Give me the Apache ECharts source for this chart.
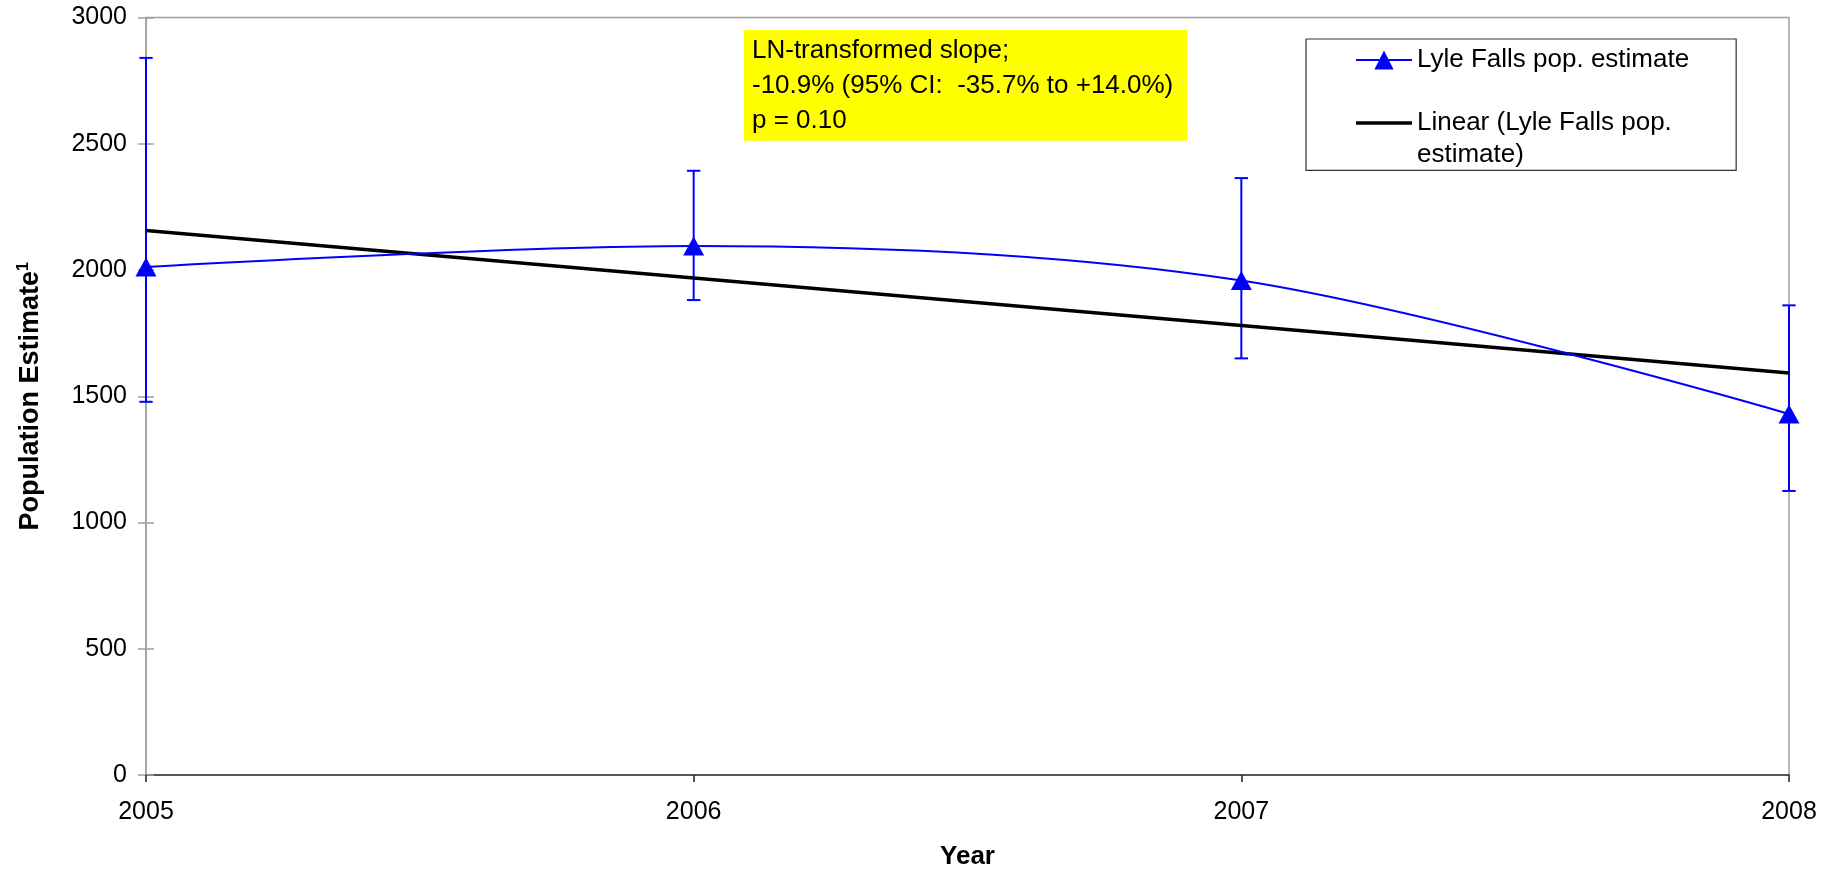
<!DOCTYPE html>
<html>
<head>
<meta charset="utf-8">
<script src="https://cdn.jsdelivr.net/npm/echarts@6/dist/echarts.min.js"></script>
<style>
html,body{margin:0;padding:0;background:#fff;}
#c{width:1841px;height:871px;}
</style>
</head>
<body>
<div id="c"></div>
<script>
// ---- data ----
const years = [2005, 2006, 2007, 2008];
const estimates = [2012, 2095, 1958, 1430];
const ciLower = [1478, 1881, 1650, 1125];
const ciUpper = [2840, 2393, 2364, 1860];
const trendYears = [2005, 2008];
const trendValues = [2156, 1592];
const seriesNames = ['Lyle Falls pop. estimate', 'Linear (Lyle Falls pop. estimate)'];
const legendLabels = ['Lyle Falls pop. estimate', ' \nLinear (Lyle Falls pop.\nestimate)'];
const annotationLines = ['LN-transformed slope;', '-10.9% (95% CI:  -35.7% to +14.0%)', 'p = 0.10'];
const xTitle = 'Year';
const yTitle = 'Population Estimate';
const yTitleSup = '1';

const FONT = "'Liberation Sans', Arial, Helvetica, sans-serif";
const BLUE = '#0000ff';

const chart = echarts.init(document.getElementById('c'), null, {renderer: 'canvas'});

const option = {
  animation: false,
  backgroundColor: '#ffffff',
  textStyle: {fontFamily: FONT},
  grid: {
    left: 146, right: 52, top: 17.5, bottom: 96,
    outerBoundsMode: 'none',
    containLabel: false,
    show: true, borderColor: '#a0a0a0', borderWidth: 1.5, backgroundColor: 'transparent'
  },
  legend: {
    orient: 'vertical',
    left: 1306, top: 39,
    padding: [8, 47, 0, 49],
    itemWidth: 56, itemHeight: 24, itemGap: 2.6,
    borderColor: '#333333', borderWidth: 1.2,
    backgroundColor: '#ffffff',
    textStyle: {fontSize: 26, color: '#000', fontFamily: FONT},
    formatter: function (name) {
      const i = seriesNames.indexOf(name);
      return i >= 0 ? legendLabels[i] : name;
    },
    data: [
      {name: seriesNames[0], textStyle: {lineHeight: 24}},
      {name: seriesNames[1], icon: 'path://M0,0L56,0L56,3.5L0,3.5Z', textStyle: {lineHeight: 31.6}}
    ],
    selectedMode: false
  },
  xAxis: {
    type: 'value', min: 2005, max: 2008, interval: 1,
    name: xTitle, nameLocation: 'middle', nameGap: 67,
    nameTextStyle: {fontSize: 26, fontWeight: 'bold', color: '#000', fontFamily: FONT, lineHeight: 30},
    axisLine: {show: true, lineStyle: {color: '#555555', width: 2}},
    axisTick: {show: true, length: 7, lineStyle: {color: '#222222', width: 1.5}},
    axisLabel: {fontSize: 25, color: '#000', margin: 24.5, lineHeight: 25, fontFamily: FONT,
      formatter: function (v) { return String(v); }},
    splitLine: {show: false}
  },
  yAxis: [
    {
      type: 'value', min: 0, max: 3000, interval: 500,
      name: '{t|' + yTitle + '}{s|' + yTitleSup + '}',
      nameLocation: 'middle', nameGap: 100, nameRotate: 90,
      nameTextStyle: {
        fontFamily: FONT, color: '#000',
        rich: {
          t: {fontSize: 27, fontWeight: 'bold', lineHeight: 30, fontFamily: FONT, color: '#000'},
          s: {fontSize: 16, fontWeight: 'bold', lineHeight: 16, verticalAlign: 'top', fontFamily: FONT, color: '#000'}
        }
      },
      axisLine: {show: true, lineStyle: {color: '#a0a0a0', width: 1.5}},
      axisTick: {show: true, length: 8, lineStyle: {color: '#a0a0a0', width: 1.5}},
      axisLabel: {fontSize: 25, color: '#000', margin: 19, fontFamily: FONT,
        formatter: function (v) { return String(v); }},
      splitLine: {show: false}
    },
    {
      type: 'value', min: 0, max: 3000, interval: 500, position: 'left',
      axisLine: {show: false},
      axisTick: {show: true, inside: true, length: 8, lineStyle: {color: '#a0a0a0', width: 1.5}},
      axisLabel: {show: false},
      splitLine: {show: false}
    }
  ],
  graphic: [
    {
      type: 'text',
      x: 744, y: 30,
      z: 100,
      style: {
        text: annotationLines.join('\n'),
        fontSize: 26,
        fontFamily: FONT,
        fill: '#000',
        lineHeight: 35,
        backgroundColor: '#ffff00',
        padding: [3, 8, 2.7, 8],
        width: 427,
        align: 'left',
        verticalAlign: 'top'
      }
    }
  ],
  series: [
    {
      type: 'custom',
      name: 'CI',
      xAxisIndex: 0, yAxisIndex: 0,
      z: 2,
      clip: false,
      data: years.map((y, i) => [y, ciLower[i], ciUpper[i]]),
      encode: {x: 0, y: [1, 2]},
      renderItem: function (params, api) {
        const x = api.value(0);
        const pLo = api.coord([x, api.value(1)]);
        const pHi = api.coord([x, api.value(2)]);
        const w = 6.7;
        const st = {stroke: BLUE, lineWidth: 2};
        return {
          type: 'group',
          children: [
            {type: 'line', shape: {x1: pLo[0], y1: pLo[1], x2: pHi[0], y2: pHi[1]}, style: st},
            {type: 'line', shape: {x1: pLo[0] - w, y1: pLo[1], x2: pLo[0] + w, y2: pLo[1]}, style: st},
            {type: 'line', shape: {x1: pHi[0] - w, y1: pHi[1], x2: pHi[0] + w, y2: pHi[1]}, style: st}
          ]
        };
      }
    },
    {
      type: 'line',
      name: seriesNames[1],
      xAxisIndex: 0, yAxisIndex: 0,
      z: 3,
      clip: false,
      symbol: 'none',
      data: trendYears.map((y, i) => [y, trendValues[i]]),
      lineStyle: {color: '#000000', width: 3.5},
      itemStyle: {color: '#000000'}
    },
    {
      type: 'line',
      name: seriesNames[0],
      xAxisIndex: 0, yAxisIndex: 0,
      z: 4,
      clip: false,
      smooth: 0.33,
      symbol: 'triangle',
      symbolSize: [21, 19],
      data: years.map((y, i) => [y, estimates[i]]),
      lineStyle: {color: BLUE, width: 2},
      itemStyle: {color: BLUE}
    }
  ]
};

chart.setOption(option);
</script>
</body>
</html>
